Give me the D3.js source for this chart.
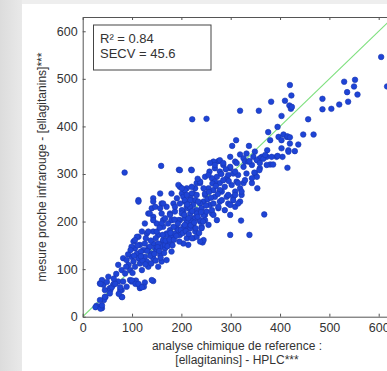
<!DOCTYPE html>
<html>
<head>
<meta charset="utf-8">
<script src="https://cdn.jsdelivr.net/npm/d3@7"></script>
<style>
  body { margin: 0; background: #fff; }
  svg { display: block; font-family: "Liberation Sans", Arial, sans-serif; }
</style>
</head>
<body>
<svg></svg>
<script>
// axis setup
const axisMax = 630;
const xTicks = [0, 100, 200, 300, 400, 500, 600];
const yTicks = [0, 100, 200, 300, 400, 500, 600];
const statLines = ["R\u00b2 = 0.84", "SECV = 45.6"];
const xLabelLines = ["analyse chimique de reference :", "[ellagitanins] - HPLC***"];
const yLabel = "mesure proche infrarouge - [ellagitanins]***";

// [reference HPLC, NIR prediction]
const samples = [
  [85,303],[159,317],[195,309],[220,309],[222,415],[251,416],[319,433],[357,433],[382,452],[410,454],
  [420,487],[423,465],[419,444],[422,437],[403,422],[395,399],[376,388],[457,415],[447,383],[468,383],
  [486,458],[486,436],[504,437],[520,446],[538,452],[530,494],[552,498],[536,472],[550,484],[557,467],
  [605,546],[617,484],[424,441],
  [380,371],[397,378],[403,371],[414,378],[403,354],[417,350],[415,313],[380,320],[386,320],[373,336],
  [363,336],[359,333],[393,336],[383,336],[374,350],[359,312],[354,270],[368,215],[321,202],[311,371],
  [303,359],[337,359],[299,336],[319,341],[326,333],[329,326],[336,326],[326,315],[309,326],[299,312],
  [305,301],[315,298],[332,301],[343,319],[349,301],[353,294],[343,281],[326,281],[312,284],[319,270],
  [309,263],[322,256],[319,242],[305,252],[292,252],[295,238],[278,242],[282,263],[288,273],[292,291],
  [278,281],[272,294],[278,305],[285,319],[275,327],[265,326],[258,323],[268,312],[257,305],[262,291],
  [248,294],[255,270],[265,266],[268,252],[248,256],[245,242],[258,235],[231,281],[238,281],[224,259],
  [221,308],[197,308],[228,245],[218,228],[231,224],[238,238],[207,242],[201,259],[211,270],[204,221],
  [275,228],[262,217],[248,214],[224,207],[214,200],[299,214],[288,224],[309,231],
  [420,364],[437,362],[430,348],[417,347],[405,336],[395,338],[366,332],[338,327],[346,336],[353,329],
  [359,323],[278,329],[285,323],[268,319],[358,308],[348,303],[299,315],[312,323],[407,383],[415,379],
  [420,377],[332,343],[349,347],[370,340],[373,319],
  [197,273],[207,266],[204,252],[197,238],[228,270],[221,259],[218,249],[231,256],[234,242],[224,235],
  [211,231],[218,217],[241,228],[197,203],[211,200],[228,207],[224,193],[238,200],[248,203],[245,214],
  [251,221],[262,224],[265,238],[275,231],[265,214],[272,203],[255,193],[241,189],[211,189],[248,259],
  [238,284],[268,284],[285,287],[295,298],[309,305],[302,277],[315,281],[329,287],[343,291],[322,263],
  [309,256],[278,266],[282,245],[305,245],[315,238],
  [299,172],[338,172],[243,156],[224,165],[295,256],[299,235],[221,196],
  [113,245],[143,249],[157,259],[180,259],[194,277],[201,270],[221,273],[255,298],[211,256],[207,245],
  [218,245],[191,249],[184,238],[170,231],[160,238],[140,228],[133,217],[126,196],[143,210],[160,217],
  [177,217],[187,221],[201,224],[214,228],[231,217],[238,203],[221,200],[207,207],[194,203],[180,203],
  [163,203],[150,196],[163,189],[177,182],[191,186],[204,189],[218,186],[228,179],[241,186],[130,175],
  [143,179],[153,172],[170,175],[184,168],[197,172],[211,165],[231,168],[245,161],[214,151],[204,154],
  [238,158],[113,168],[103,158],[116,151],[126,154],[143,154],[163,158],[180,154],[160,147],[147,144],
  [133,144],[106,144],
  [35,21],[39,18],[28,23],[35,70],[42,67],[52,84],[45,56],[55,60],[62,67],[79,42],
  [79,56],[72,74],[82,74],[96,77],[106,74],[116,60],[126,72],[143,75],[72,109],[79,98],
  [86,91],[82,123],[89,119],[93,109],[96,98],[99,126],[103,116],[106,105],[110,133],[113,123],
  [116,112],[120,98],[123,140],[126,126],[130,116],[133,105],[136,147],[140,133],[143,123],[150,140],
  [153,154],[157,130],[160,116],[163,161],[167,144],[170,172],[174,154],[180,168],[184,189],[187,175],
  [194,182],[201,217],[207,193],[214,207],[217,231],[221,165],[147,231],[136,217],[113,242],[133,179],
  [110,168],[106,161],[150,179],[160,196],[167,207],[177,214],[187,231],[157,228],[163,238],[143,242],
  [143,203],[120,179],[99,147],[180,137],[170,119],[153,105],
  [26,20],[36,17],[39,24],[46,41],[43,35],[39,77],[36,69],[49,73],[56,56],[59,62],
  [63,69],[80,41],[35,35],[55,49],[45,42],[76,56],[108,76],[124,63],[115,65],[99,74],
  [89,63],[167,151],[66,69],[73,48],[76,62],[100,76],[107,69],[113,69],[120,62],[140,77],
  [92,131],[97,140],[104,128],[111,150],[118,137],[121,118],[127,110],[131,138],[137,128],[139,112],
  [145,132],[148,118],[152,146],[155,138],[158,124],[162,172],[165,134],[168,160],[172,148],[176,162],
  [178,176],[182,150],[185,162],[190,170],[193,196],[196,158],[199,182],[203,176],[206,214],[209,180],
  [212,236],[215,174],[219,192],[222,222],[226,198],[229,186],[233,210],[236,176],[240,220],[244,200],
  [250,234],[253,247],[256,262],[260,250],[263,280],[270,275],[274,258],[281,300],[290,310],[296,285],
  [233,290],[245,270],[186,204],[173,196],[156,187],[148,165],[138,160],[128,165],[118,127],[101,92],
  [88,105],[68,90],[63,80]
];

const W = 387, H = 371;
const svg = d3.select("svg").attr("width", W).attr("height", H);

// page background behind the figure
const defs = svg.append("defs");
const grad = defs.append("linearGradient").attr("id", "side").attr("x1", 0).attr("x2", 1);
grad.append("stop").attr("offset", 0).attr("stop-color", "#dcdcdc");
grad.append("stop").attr("offset", 1).attr("stop-color", "#e9e9e9");
svg.append("rect").attr("width", W).attr("height", H).attr("fill", "#ffffff");
svg.append("rect").attr("width", W).attr("height", 4).attr("fill", "#eeeeee");
svg.append("rect").attr("width", 22).attr("height", H).attr("fill", "url(#side)");

const x = d3.scaleLinear().domain([0, axisMax]).range([82.7, 393.5]);
const y = d3.scaleLinear().domain([0, axisMax]).range([316.7, 17]);

defs.append("clipPath").attr("id", "plot")
  .append("rect")
  .attr("x", x(0)).attr("y", y(axisMax))
  .attr("width", x(axisMax) - x(0)).attr("height", y(0) - y(axisMax));

const plot = svg.append("g").attr("clip-path", "url(#plot)");

// 1:1 line
plot.append("line")
  .attr("x1", x(0)).attr("y1", y(0))
  .attr("x2", x(axisMax)).attr("y2", y(axisMax))
  .attr("stroke", "#7fe07f")
  .attr("stroke-width", 1.2);

plot.selectAll("circle")
  .data(samples)
  .enter()
  .append("circle")
  .attr("cx", d => x(d[0]))
  .attr("cy", d => y(d[1]))
  .attr("r", 2.8)
  .attr("fill", "#1e44d6")
  .attr("stroke", "#1a36b0")
  .attr("stroke-width", 0.6);

// axes (MATLAB style, ticks inside)
const axisColor = "#555";
const styleAxis = g => {
  g.selectAll(".domain").attr("stroke", axisColor);
  g.selectAll(".tick line").attr("stroke", axisColor);
  g.selectAll(".tick text").attr("fill", "#333").style("font-size", "12.5px");
};

svg.append("g")
  .attr("transform", `translate(0,${y(0)})`)
  .call(d3.axisBottom(x).tickValues(xTicks).tickSizeInner(-3).tickSizeOuter(0).tickPadding(6))
  .call(styleAxis);

svg.append("g")
  .attr("transform", `translate(0,${y(axisMax)})`)
  .call(d3.axisTop(x).tickValues(xTicks).tickSizeInner(-3).tickSizeOuter(0).tickFormat(""))
  .call(styleAxis);

svg.append("g")
  .attr("transform", `translate(${x(0)},0)`)
  .call(d3.axisLeft(y).tickValues(yTicks).tickSizeInner(-3).tickSizeOuter(0).tickPadding(5))
  .call(styleAxis);

svg.append("g")
  .attr("transform", `translate(${x(axisMax)},0)`)
  .call(d3.axisRight(y).tickValues(yTicks).tickSizeInner(-3).tickSizeOuter(0).tickFormat(""))
  .call(styleAxis);

svg.selectAll(".domain").attr("fill", "none");

// stats box
svg.append("rect")
  .attr("x", 93.5).attr("y", 25)
  .attr("width", 117.5).attr("height", 45)
  .attr("fill", "#fff")
  .attr("stroke", "#444")
  .attr("stroke-width", 1);

svg.append("g").selectAll("text")
  .data(statLines)
  .enter()
  .append("text")
  .attr("x", 100)
  .attr("y", (d, i) => 42.5 + i * 15.8)
  .attr("fill", "#333")
  .style("font-size", "13px")
  .text(d => d);

// axis labels
svg.append("g").selectAll("text")
  .data(xLabelLines)
  .enter()
  .append("text")
  .attr("x", 237)
  .attr("y", (d, i) => 349.5 + i * 14.5)
  .attr("text-anchor", "middle")
  .attr("fill", "#333")
  .style("font-size", "12px")
  .text(d => d);

svg.append("text")
  .attr("transform", `translate(46,167) rotate(-90)`)
  .attr("text-anchor", "middle")
  .attr("fill", "#333")
  .style("font-size", "12px")
  .text(yLabel);
</script>
</body>
</html>
